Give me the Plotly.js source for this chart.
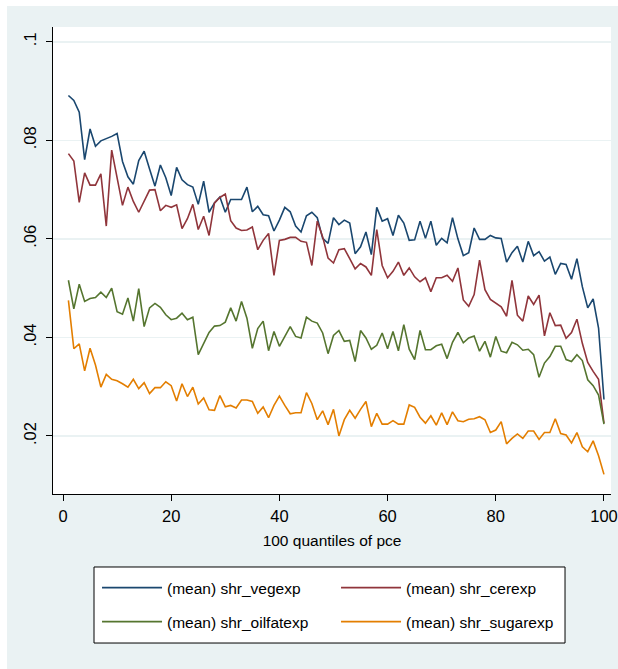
<!DOCTYPE html>
<html>
<head>
<meta charset="utf-8">
<script src="https://cdn.plot.ly/plotly-3.0.1.min.js"></script>
<style>
  html, body { margin: 0; padding: 0; background: #ffffff; }
  #chart { position: absolute; left: 7px; top: 6px; width: 611px; height: 663px; }
</style>
</head>
<body>
<div id="chart"></div>
<script>
// 100 quantiles of pce
const quantiles = Array.from({length: 100}, (_, i) => i + 1);

const shrVegexp = [
  0.0891, 0.0881, 0.0857, 0.0761, 0.0823, 0.0788, 0.0799, 0.0803, 0.0808, 0.0814,
  0.0757, 0.0726, 0.0711, 0.0759, 0.0778, 0.0742, 0.0707, 0.0750, 0.0724, 0.0688,
  0.0745, 0.0720, 0.0710, 0.0705, 0.0670, 0.0717, 0.0654, 0.0673, 0.0685, 0.0654,
  0.0680, 0.0680, 0.0680, 0.0705, 0.0655, 0.0666, 0.0649, 0.0647, 0.0616, 0.0638,
  0.0664, 0.0655, 0.0626, 0.0614, 0.0647, 0.0654, 0.0643, 0.0601, 0.0591, 0.0643,
  0.0629, 0.0638, 0.0632, 0.0570, 0.0584, 0.0614, 0.0568, 0.0664, 0.0636, 0.0641,
  0.0607, 0.0648, 0.0632, 0.0597, 0.0598, 0.0636, 0.0601, 0.0636, 0.0587, 0.0601,
  0.0592, 0.0643, 0.0600, 0.0566, 0.0572, 0.0622, 0.0599, 0.0599, 0.0607, 0.0602,
  0.0601, 0.0553, 0.0572, 0.0585, 0.0553, 0.0595, 0.0566, 0.0574, 0.0555, 0.0563,
  0.0528, 0.0550, 0.0548, 0.0518, 0.0560, 0.0503, 0.0460, 0.0478, 0.0419, 0.0274
];

const shrCerexp = [
  0.0773, 0.0758, 0.0674, 0.0734, 0.0709, 0.0709, 0.0732, 0.0626, 0.0780, 0.0727,
  0.0668, 0.0705, 0.0676, 0.0654, 0.0678, 0.0699, 0.0700, 0.0657, 0.0668, 0.0664,
  0.0669, 0.0621, 0.0641, 0.0670, 0.0619, 0.0646, 0.0607, 0.0673, 0.0684, 0.0691,
  0.0637, 0.0622, 0.0617, 0.0618, 0.0624, 0.0578, 0.0597, 0.0611, 0.0526, 0.0597,
  0.0599, 0.0603, 0.0603, 0.0595, 0.0593, 0.0546, 0.0636, 0.0604, 0.0561, 0.0551,
  0.0578, 0.0580, 0.0560, 0.0539, 0.0550, 0.0543, 0.0526, 0.0619, 0.0546, 0.0521,
  0.0534, 0.0553, 0.0526, 0.0541, 0.0523, 0.0513, 0.0521, 0.0493, 0.0521, 0.0521,
  0.0526, 0.0514, 0.0541, 0.0476, 0.0463, 0.0487, 0.0557, 0.0497, 0.0477, 0.0469,
  0.0462, 0.0443, 0.0516, 0.0445, 0.0433, 0.0484, 0.0467, 0.0486, 0.0403, 0.0450,
  0.0424, 0.0425, 0.0398, 0.0410, 0.0437, 0.0388, 0.0349, 0.0331, 0.0315, 0.0226
];

const shrOilfatexp = [
  0.0516, 0.0458, 0.0508, 0.0473, 0.0479, 0.0481, 0.0492, 0.0481, 0.0500, 0.0452,
  0.0447, 0.0480, 0.0433, 0.0499, 0.0422, 0.0460, 0.0469, 0.0461, 0.0446, 0.0436,
  0.0439, 0.0449, 0.0436, 0.0441, 0.0365, 0.0389, 0.0410, 0.0423, 0.0424, 0.0431,
  0.0460, 0.0433, 0.0473, 0.0439, 0.0378, 0.0418, 0.0433, 0.0373, 0.0412, 0.0382,
  0.0402, 0.0422, 0.0402, 0.0399, 0.0441, 0.0433, 0.0429, 0.0409, 0.0367, 0.0404,
  0.0414, 0.0392, 0.0394, 0.0351, 0.0414, 0.0399, 0.0376, 0.0384, 0.0409, 0.0377,
  0.0412, 0.0373, 0.0426, 0.0376, 0.0355, 0.0414, 0.0375, 0.0375, 0.0383, 0.0386,
  0.0357, 0.0390, 0.0410, 0.0389, 0.0399, 0.0403, 0.0372, 0.0392, 0.0360, 0.0402,
  0.0372, 0.0369, 0.0390, 0.0385, 0.0374, 0.0376, 0.0365, 0.0319, 0.0348, 0.0361,
  0.0382, 0.0382, 0.0355, 0.0351, 0.0365, 0.0353, 0.0314, 0.0302, 0.0283, 0.0224
];

const shrSugarexp = [
  0.0475, 0.0377, 0.0387, 0.0332, 0.0378, 0.0344, 0.0299, 0.0325, 0.0315, 0.0312,
  0.0306, 0.0299, 0.0315, 0.0296, 0.0308, 0.0286, 0.0298, 0.0298, 0.0310, 0.0302,
  0.0271, 0.0306, 0.0280, 0.0299, 0.0265, 0.0277, 0.0253, 0.0252, 0.0282, 0.0259,
  0.0262, 0.0257, 0.0273, 0.0273, 0.0270, 0.0246, 0.0259, 0.0237, 0.0262, 0.0281,
  0.0262, 0.0245, 0.0247, 0.0247, 0.0288, 0.0266, 0.0233, 0.0251, 0.0223, 0.0254,
  0.0200, 0.0233, 0.0252, 0.0236, 0.0254, 0.0270, 0.0219, 0.0246, 0.0224, 0.0224,
  0.0231, 0.0224, 0.0224, 0.0263, 0.0258, 0.0238, 0.0226, 0.0241, 0.0222, 0.0247,
  0.0223, 0.0249, 0.0231, 0.0229, 0.0234, 0.0235, 0.0239, 0.0233, 0.0207, 0.0212,
  0.0229, 0.0184, 0.0195, 0.0204, 0.0195, 0.0210, 0.0210, 0.0193, 0.0207, 0.0207,
  0.0235, 0.0205, 0.0202, 0.0186, 0.0207, 0.0178, 0.0168, 0.0190, 0.0160, 0.0122
];

const seriesNames = ["(mean) shr_vegexp", "(mean) shr_cerexp", "(mean) shr_oilfatexp", "(mean) shr_sugarexp"];
const seriesColors = ["#1a476f", "#90353b", "#55752f", "#e37e00"];
const legendRows = ["legend", "legend", "legend2", "legend2"];

const xTickVals = [0, 20, 40, 60, 80, 100];
const xTickText = ["0", "20", "40", "60", "80", "100"];
const yTickVals = [0.02, 0.04, 0.06, 0.08, 0.1];
const yTickText = [".02", ".04", ".06", ".08", ".1"];

const seriesValues = [shrVegexp, shrCerexp, shrOilfatexp, shrSugarexp];
const traces = seriesValues.map((vals, i) => ({
  type: "scatter",
  mode: "lines",
  x: quantiles,
  y: vals,
  name: seriesNames[i],
  legend: legendRows[i],
  line: { color: seriesColors[i], width: 1.6 }
}));

const font = "'Liberation Sans', Arial, Helvetica, sans-serif";

function legendRow(yPos) {
  return {
    orientation: "h",
    x: 0.0789,
    xanchor: "left",
    y: yPos,
    yanchor: "middle",
    bgcolor: "rgba(0,0,0,0)",
    borderwidth: 0,
    itemwidth: 60,
    entrywidth: 164,
    entrywidthmode: "pixels",
    traceorder: "normal",
    font: { family: font, size: 15.5, color: "#000000" }
  };
}

const layout = {
  width: 611,
  height: 663,
  paper_bgcolor: "#eaf2f3",
  plot_bgcolor: "#ffffff",
  margin: { l: 46, r: 7, t: 21, b: 175 },
  font: { family: font, size: 16, color: "#000000" },
  showlegend: true,
  xaxis: {
    range: [-1.85, 101.3],
    tickvals: xTickVals,
    ticktext: xTickText,
    ticks: "outside",
    ticklen: 6,
    tickwidth: 1,
    tickcolor: "#000000",
    ticklabelstandoff: 1,
    ticklabeloverflow: "allow",
    showgrid: false,
    zeroline: false,
    showline: true,
    linecolor: "#000000",
    linewidth: 1,
    tickfont: { family: font, size: 16.5 },
    title: { text: "100 quantiles of pce", font: { family: font, size: 15.5 }, standoff: 11 }
  },
  yaxis: {
    range: [0.00822, 0.103],
    tickvals: yTickVals,
    ticktext: yTickText,
    ticks: "outside",
    ticklen: 6,
    tickwidth: 1,
    tickcolor: "#000000",
    tickangle: -90,
    ticklabelstandoff: 3,
    showgrid: true,
    gridcolor: "#eaf2f3",
    gridwidth: 1.5,
    zeroline: false,
    showline: true,
    linecolor: "#000000",
    linewidth: 1,
    tickfont: { family: font, size: 16.5 }
  },
  legend: legendRow(-0.2013),
  legend2: legendRow(-0.2741),
  shapes: [{
    type: "rect",
    xref: "paper", yref: "paper",
    x0: 0.0735, x1: 0.9176, y0: -0.3191, y1: -0.1563,
    fillcolor: "#ffffff",
    line: { color: "#000000", width: 1 },
    layer: "above"
  }]
};

Plotly.newPlot("chart", traces, layout, { displayModeBar: false, staticPlot: true });
</script>
</body>
</html>
